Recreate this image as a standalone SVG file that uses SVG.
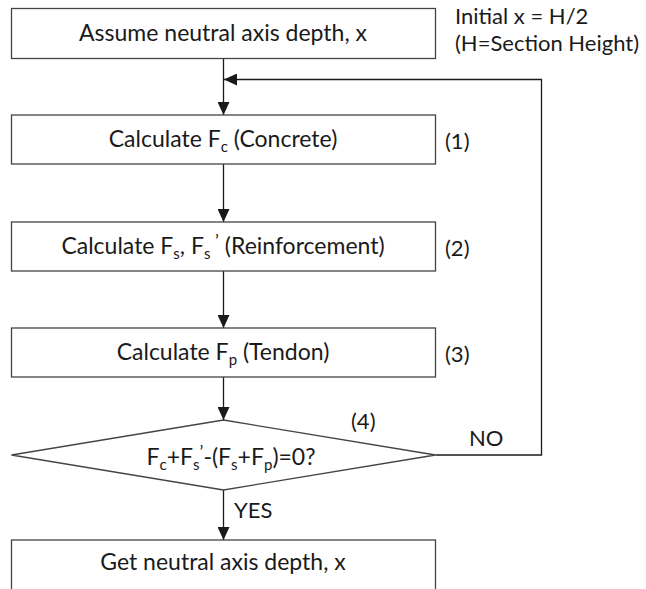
<svg xmlns="http://www.w3.org/2000/svg" width="646" height="589" viewBox="0 0 646 589">
<defs>
<marker id="arr" viewBox="0 0 13 12" refX="13" refY="6" markerWidth="13" markerHeight="12" markerUnits="userSpaceOnUse" orient="auto">
<path d="M0,0 L13,6 L0,12 Z" fill="#1a1a1a"/>
</marker>
</defs>
<style>
.box{fill:#fff;stroke:#444;stroke-width:1.3}
.t{font-family:Lato,"Liberation Sans",sans-serif;font-size:23px;fill:#1a1a1a;text-anchor:middle}
.l{font-family:Lato,"Liberation Sans",sans-serif;font-size:22px;fill:#1a1a1a}
.sub{font-size:15px}
.pr{font-size:18px}
.c{fill:none;stroke:#1a1a1a;stroke-width:1.3}
</style>
<rect width="646" height="589" fill="#fff"/>
<g id="connectors">
<line class="c" x1="223.5" y1="58.5" x2="223.5" y2="115" marker-end="url(#arr)"/>
<polyline class="c" points="435.5,455 541.5,455 541.5,79.5 224,79.5" marker-end="url(#arr)"/>
<line class="c" x1="223.5" y1="164" x2="223.5" y2="222" marker-end="url(#arr)"/>
<line class="c" x1="223.5" y1="271" x2="223.5" y2="328" marker-end="url(#arr)"/>
<line class="c" x1="223.5" y1="377" x2="223.5" y2="420" marker-end="url(#arr)"/>
<line class="c" x1="223.5" y1="490" x2="223.5" y2="540" marker-end="url(#arr)"/>
<text class="l" x="469" y="446">NO</text>
<text class="l" x="234" y="518">YES</text>
</g>
<g id="n1">
<rect class="box" x="11.5" y="8.5" width="424" height="50"/>
<text class="t" x="223" y="41">Assume neutral axis depth, x</text>
<text class="l" x="455" y="23.5">Initial x = H/2</text>
<text class="l" x="455" y="50.5">(H=Section Height)</text>
</g>
<g id="n2">
<rect class="box" x="11.5" y="115" width="424" height="49"/>
<text class="t" x="223" y="147">Calculate F<tspan class="sub" dy="5">c</tspan><tspan dy="-5"> (Concrete)</tspan></text>
<text class="l" x="445" y="149">(1)</text>
</g>
<g id="n3">
<rect class="box" x="11.5" y="222" width="424" height="49"/>
<text class="t" x="223" y="254">Calculate F<tspan class="sub" dy="5">s</tspan><tspan dy="-5">, F</tspan><tspan class="sub" dy="5">s</tspan><tspan class="pr" dy="-12"> ’</tspan><tspan dy="7"> (Reinforcement)</tspan></text>
<text class="l" x="445" y="256">(2)</text>
</g>
<g id="n4">
<rect class="box" x="11.5" y="328" width="424" height="49"/>
<text class="t" x="223" y="360">Calculate F<tspan class="sub" dy="5">p</tspan><tspan dy="-5"> (Tendon)</tspan></text>
<text class="l" x="445" y="362">(3)</text>
</g>
<g id="n5">
<polygon class="box" points="223.5,420 435.5,455 223.5,490 11.5,455"/>
<text class="t" x="231" y="465">F<tspan class="sub" dy="5">c</tspan><tspan dy="-5">+F</tspan><tspan class="sub" dy="5">s</tspan><tspan class="pr" dy="-12">’</tspan><tspan dy="7">-(F</tspan><tspan class="sub" dy="5">s</tspan><tspan dy="-5">+F</tspan><tspan class="sub" dy="5">p</tspan><tspan dy="-5">)=0?</tspan></text>
<text class="l" x="351" y="429">(4)</text>
</g>
<g id="n6">
<rect class="box" x="11.5" y="540" width="424" height="60"/>
<text class="t" x="223" y="570">Get neutral axis depth, x</text>
</g>
</svg>
